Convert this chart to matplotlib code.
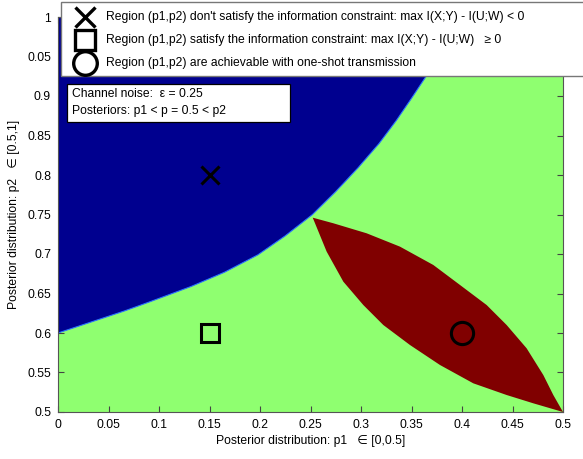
import matplotlib
matplotlib.use("Agg")
import matplotlib.pyplot as plt
from matplotlib.patches import Rectangle
from matplotlib.lines import Line2D

plt.rcParams['font.family'] = ['Liberation Sans', 'DejaVu Sans']

# boundary of the region that fails the information constraint (upper left)
blue_p1 = [0.0, 0.033, 0.066, 0.092, 0.132, 0.165, 0.198, 0.225, 0.252, 0.275,
           0.297, 0.318, 0.335, 0.350, 0.364, 0.385, 0.405]
blue_p2 = [0.600, 0.614, 0.628, 0.640, 0.659, 0.677, 0.699, 0.723, 0.750, 0.779,
           0.809, 0.840, 0.869, 0.897, 0.924, 0.962, 1.0]

# one-shot achievable region (lens), upper and lower edges from the tip to (0.5, 0.5)
red_up_p1 = [0.2522, 0.2726, 0.3056, 0.3386, 0.3716, 0.3980, 0.4244, 0.4442, 0.4640,
             0.4805, 0.4904, 0.5]
red_up_p2 = [0.7460, 0.7389, 0.7262, 0.7093, 0.6861, 0.6608, 0.6354, 0.6101, 0.5806,
             0.5468, 0.5215, 0.5]
red_lo_p1 = [0.2522, 0.2660, 0.2825, 0.3023, 0.3221, 0.3485, 0.3782, 0.4112, 0.4442,
             0.4706, 0.5]
red_lo_p2 = [0.7460, 0.7030, 0.6650, 0.6354, 0.6101, 0.5848, 0.5595, 0.5363, 0.5215,
             0.5110, 0.5]

# example points
pt_x = (0.15, 0.8)
pt_sq = (0.15, 0.6)
pt_o = (0.4, 0.6)

xticks = [0, 0.05, 0.1, 0.15, 0.2, 0.25, 0.3, 0.35, 0.4, 0.45, 0.5]
xticklabels = ['0', '0.05', '0.1', '0.15', '0.2', '0.25', '0.3', '0.35', '0.4', '0.45', '0.5']
yticks = [0.5, 0.55, 0.6, 0.65, 0.7, 0.75, 0.8, 0.85, 0.9, 0.95, 1.0]
yticklabels = ['0.5', '0.55', '0.6', '0.65', '0.7', '0.75', '0.8', '0.85', '0.9', '0.05', '1']

legend_labels = [
    "Region (p1,p2) don't satisfy the information constraint: max I(X;Y) - I(U;W) < 0",
    "Region (p1,p2) satisfy the information constraint: max I(X;Y) - I(U;W)   \u2265 0",
    "Region (p1,p2) are achievable with one-shot transmission",
]

navy = '#00008f'
green = '#8fff70'
darkred = '#800000'
fs = 8.7

W, H = 583, 459
fig = plt.figure(figsize=(W / 100, H / 100), dpi=100)
ax = fig.add_axes([58 / W, 47 / H, 505 / W, 395 / H])

ax.fill([0, 0.5, 0.5, 0], [0.5, 0.5, 1, 1], color=green, lw=0, zorder=1)
ax.fill([0] + blue_p1 + [0], [1] + blue_p2 + [1], color=navy, lw=0, zorder=2)
ax.plot(blue_p1, blue_p2, color='#2a70ff', lw=0.8, zorder=2)
ax.fill(red_up_p1 + red_lo_p1[::-1], red_up_p2 + red_lo_p2[::-1], color=darkred, lw=0, zorder=3)

ax.plot(*pt_x, marker='x', ms=12.5, mew=2.2, color='black', zorder=5)
ax.plot(*pt_sq, marker='s', ms=13, mew=2.2, mfc='none', mec='black', zorder=5)
ax.plot(*pt_o, marker='o', ms=16, mew=2.2, mfc='none', mec='black', zorder=5)

ax.set_xlim(0, 0.5)
ax.set_ylim(0.5, 1)
ax.set_xticks(xticks)
ax.set_xticklabels(xticklabels)
ax.set_yticks(yticks)
ax.set_yticklabels(yticklabels)
ax.tick_params(direction='in', top=True, right=True, length=4, labelsize=fs,
               color='#444444', pad=5)
for s in ax.spines.values():
    s.set_color('#555555')
    s.set_linewidth(0.8)

ax.set_xlabel("Posterior distribution: p1   \u2208 [0,0.5]", fontsize=fs, labelpad=3)
ax.set_ylabel("Posterior distribution: p2   \u2208 [0.5,1]", fontsize=fs, labelpad=5)

# info box
fig.add_artist(Rectangle((67 / W, 1 - 122 / H), 223 / W, 38 / H, transform=fig.transFigure,
                         facecolor='white', edgecolor='black', lw=0.9, zorder=10))
fig.text(72 / W, 1 - 94 / H, "Channel noise:  \u03b5 = 0.25", fontsize=fs, va='center', zorder=11)
fig.text(72 / W, 1 - 111 / H, "Posteriors: p1 < p = 0.5 < p2", fontsize=fs, va='center', zorder=11)

# legend box (runs off the right edge)
fig.add_artist(Rectangle((61 / W, 1 - 76 / H), 560 / W, 74 / H, transform=fig.transFigure,
                         facecolor='white', edgecolor='#777777', lw=1.0, zorder=10))
leg_rows = [17, 40, 63]
leg_markers = [dict(marker='x', ms=14.5), dict(marker='s', ms=15), dict(marker='o', ms=17)]
for yy, mk, lab in zip(leg_rows, leg_markers, legend_labels):
    fig.add_artist(Line2D([85 / W], [1 - yy / H], transform=fig.transFigure, ls='none',
                          mfc='none', mec='black', mew=2.4, color='black', zorder=11, **mk))
    fig.text(106 / W, 1 - yy / H, lab, fontsize=fs, va='center', zorder=11)

fig.savefig('out.png', dpi=100)
